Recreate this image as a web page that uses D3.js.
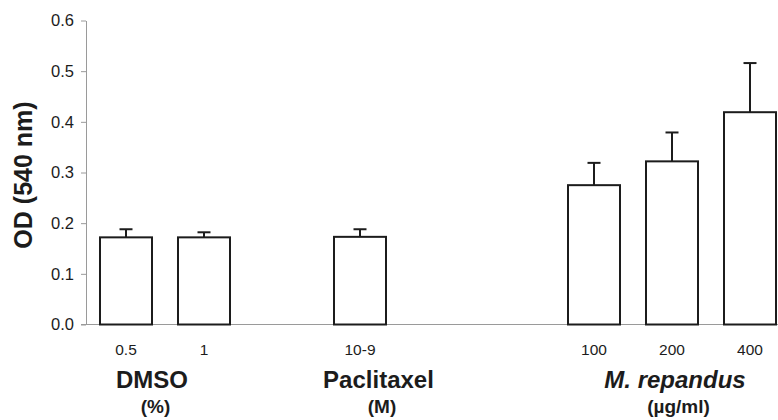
<!DOCTYPE html>
<html>
<head>
<meta charset="utf-8">
<script src="https://cdn.jsdelivr.net/npm/d3@7"></script>
<style>
  body { margin: 0; background: #fff; }
  svg { display: block; font-family: "Liberation Sans", Arial, sans-serif; }
</style>
</head>
<body>
<div id="chart"></div>
<script>
// slot labels along the x axis (empty slots are spacers between groups)
const tickLabels = ["0.5", "1", "", "10-9", "", "", "100", "200", "400"];
const means      = [0.172, 0.172, null, 0.173, null, null, 0.275, 0.322, 0.419];
const errors     = [0.016, 0.010, null, 0.015, null, null, 0.044, 0.057, 0.097];

const groupNames = ["DMSO", "Paclitaxel", "M. repandus"];
const groupUnits = ["(%)", "(M)", "(\u00b5g/ml)"];
const groupSlots = [[0, 1], [3], [6, 7, 8]];
const groupItalic = [false, false, true];
const groupShift = [-13, 18.5, 3];

const yTicks = [0, 0.1, 0.2, 0.3, 0.4, 0.5, 0.6];

const W = 778, H = 420;
const margin = {top: 20.5, left: 86, bottom: 95.5};

const svg = d3.select("#chart").append("svg")
    .attr("width", W).attr("height", H);

const x = d3.scaleBand()
    .domain(d3.range(tickLabels.length))
    .range([margin.left + 1, margin.left + 1 + 78 * tickLabels.length])
    .paddingInner(0.3077)
    .paddingOuter(0.1538);

const y = d3.scaleLinear()
    .domain([0, 0.6])
    .range([H - margin.bottom, margin.top]);

const ink = "#1c1c1c";
const axisGrey = "#9a9a9a";

// y axis
const yAxis = svg.append("g")
    .attr("transform", `translate(${margin.left},0)`)
    .call(d3.axisLeft(y).tickValues(yTicks).tickFormat(d3.format(".1f"))
        .tickSize(5).tickSizeOuter(0).tickPadding(7));
yAxis.select(".domain").attr("stroke", axisGrey);
yAxis.selectAll(".tick line").attr("stroke", axisGrey);
yAxis.selectAll(".tick text").attr("fill", ink).style("font-size", "16.5px");

// x axis line
svg.append("line")
    .attr("x1", margin.left - 5).attr("x2", W)
    .attr("y1", y(0)).attr("y2", y(0))
    .attr("stroke", axisGrey);

const xAxis = svg.append("g")
    .attr("transform", `translate(0,${y(0)})`)
    .call(d3.axisBottom(x).tickFormat(i => tickLabels[i]).tickSize(0).tickPadding(19.5));
xAxis.select(".domain").remove();
xAxis.selectAll(".tick text").attr("fill", ink).style("font-size", "15.5px");

const rows = tickLabels.map((t, i) => ({i, m: means[i], e: errors[i]})).filter(d => d.m != null);

// error bars
const err = svg.append("g").attr("stroke", ink).attr("stroke-width", 2);
err.selectAll(".stem").data(rows).join("line")
    .attr("x1", d => x(d.i) + x.bandwidth() / 2)
    .attr("x2", d => x(d.i) + x.bandwidth() / 2)
    .attr("y1", d => y(d.m)).attr("y2", d => y(d.m + d.e));
err.selectAll(".cap").data(rows).join("line")
    .attr("x1", d => x(d.i) + x.bandwidth() / 2 - 6.5)
    .attr("x2", d => x(d.i) + x.bandwidth() / 2 + 6.5)
    .attr("y1", d => y(d.m + d.e)).attr("y2", d => y(d.m + d.e));

// bars
svg.append("g").selectAll("rect").data(rows).join("rect")
    .attr("x", d => x(d.i) + 1)
    .attr("width", x.bandwidth() - 2)
    .attr("y", d => y(d.m))
    .attr("height", d => y(0) - y(d.m))
    .attr("fill", "#fff")
    .attr("stroke", ink)
    .attr("stroke-width", 2);

// group labels
groupNames.forEach((name, g) => {
    const cx = d3.mean(groupSlots[g], i => x(i) + x.bandwidth() / 2) + groupShift[g];
    svg.append("text")
        .attr("x", cx).attr("y", 388)
        .attr("text-anchor", "middle")
        .attr("fill", ink)
        .style("font-size", "24px").style("font-weight", "bold")
        .style("font-style", groupItalic[g] ? "italic" : "normal")
        .text(name);
    svg.append("text")
        .attr("x", cx + 3.5).attr("y", 413)
        .attr("text-anchor", "middle")
        .attr("fill", ink)
        .style("font-size", "19px").style("font-weight", "bold")
        .text(groupUnits[g]);
});

// y title
svg.append("text")
    .attr("transform", "translate(31.5,175) rotate(-90)")
    .attr("text-anchor", "middle")
    .attr("fill", ink)
    .style("font-size", "25px").style("font-weight", "bold")
    .text("OD (540 nm)");
</script>
</body>
</html>
